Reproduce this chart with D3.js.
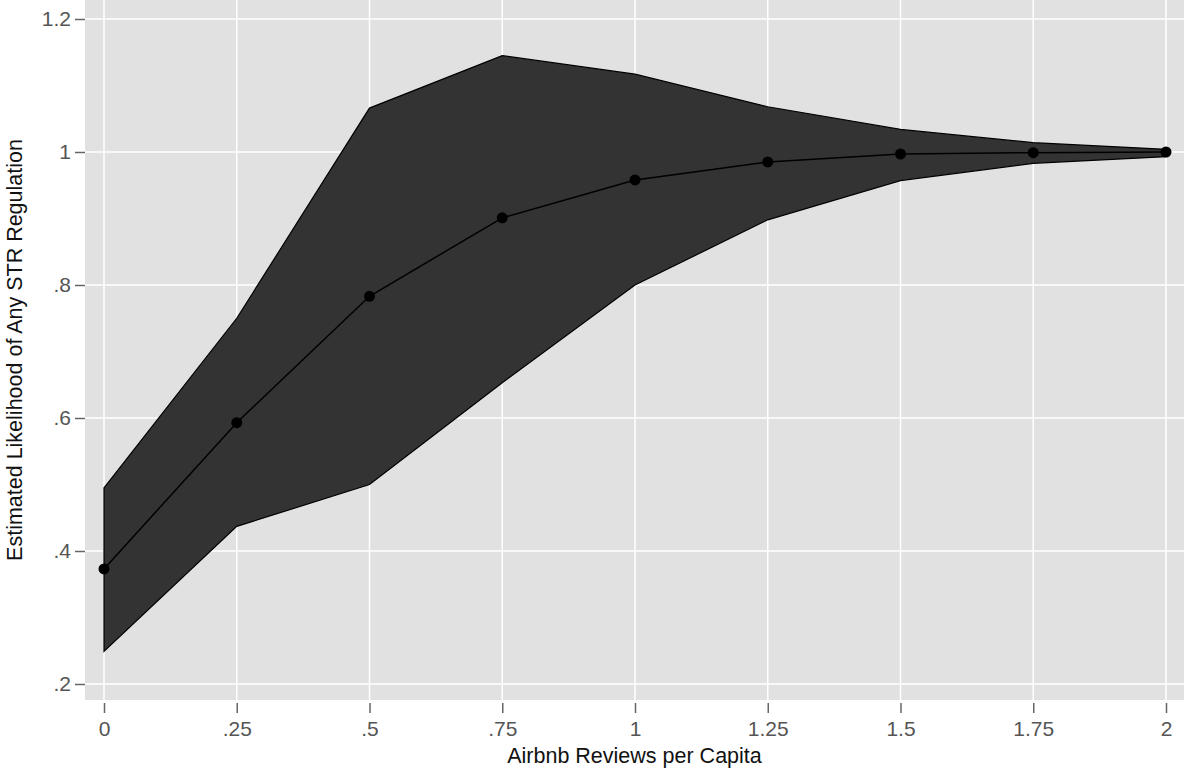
<!DOCTYPE html>
<html><head><meta charset="utf-8">
<script src="https://cdn.jsdelivr.net/npm/d3@7"></script>
<style>body{margin:0;background:#fff;}svg{display:block;font-family:"Liberation Sans",Arial,sans-serif;}</style>
</head><body>
<svg id="c" width="1184" height="772"></svg>
<script>
const xVals = [0, 0.25, 0.5, 0.75, 1, 1.25, 1.5, 1.75, 2];
const estimate = [0.373, 0.593, 0.783, 0.901, 0.958, 0.985, 0.997, 0.999, 1.0];
const upper = [0.495, 0.75, 1.066, 1.145, 1.117, 1.068, 1.034, 1.014, 1.004];
const lower = [0.249, 0.437, 0.5, 0.653, 0.8, 0.898, 0.957, 0.983, 0.993];
const xTicks = [0, 0.25, 0.5, 0.75, 1, 1.25, 1.5, 1.75, 2];
const xTickLabels = ["0", ".25", ".5", ".75", "1", "1.25", "1.5", "1.75", "2"];
const yTicks = [0.2, 0.4, 0.6, 0.8, 1, 1.2];
const yTickLabels = [".2", ".4", ".6", ".8", "1", "1.2"];

const svg = d3.select("#c");
const panel = {l: 85, r: 1184, t: 0, b: 700};
const x = d3.scaleLinear().domain([0, 2]).range([104, 1166]);
const y = d3.scaleLinear().domain([0.2, 1.2]).range([684, 19]);

svg.append("rect").attr("x", panel.l).attr("y", panel.t)
  .attr("width", panel.r - panel.l).attr("height", panel.b - panel.t).attr("fill", "#e1e1e1");

const g = svg.append("g");
g.selectAll(".hg").data(yTicks).join("line")
  .attr("x1", panel.l).attr("x2", panel.r).attr("y1", d => y(d)).attr("y2", d => y(d))
  .attr("stroke", "#fff").attr("stroke-width", 1.5);
g.selectAll(".vg").data(xTicks).join("line")
  .attr("y1", panel.t).attr("y2", panel.b).attr("x1", d => x(d)).attr("x2", d => x(d))
  .attr("stroke", "#fff").attr("stroke-width", 1.5);

const data = xVals.map((v, i) => ({x: v, e: estimate[i], u: upper[i], l: lower[i]}));
const area = d3.area().x(d => x(d.x)).y0(d => y(d.l)).y1(d => y(d.u));
svg.append("path").datum(data).attr("d", d => area(d) + "Z")
  .attr("fill", "#333333").attr("stroke", "#000").attr("stroke-width", 1.2);

const line = d3.line().x(d => x(d.x)).y(d => y(d.e));
svg.append("path").datum(data).attr("d", line).attr("fill", "none")
  .attr("stroke", "#000").attr("stroke-width", 1.5);
svg.selectAll(".pt").data(data).join("circle")
  .attr("cx", d => x(d.x)).attr("cy", d => y(d.e)).attr("r", 5.5).attr("fill", "#000");

// Axes
const yAxis = d3.axisLeft(y).tickValues(yTicks).tickFormat((d, i) => yTickLabels[i]).tickSize(10).tickPadding(4);
const ya = svg.append("g").attr("transform", `translate(${panel.l},0)`).call(yAxis);
ya.select(".domain").remove();
ya.selectAll("line").attr("stroke", "#666").attr("stroke-width", 1.5);
ya.selectAll("text").attr("font-size", 21).attr("fill", "#555").attr("font-family", "Liberation Sans, Arial, sans-serif");

const xAxis = d3.axisBottom(x).tickValues(xTicks).tickFormat((d, i) => xTickLabels[i]).tickSize(10).tickPadding(8);
const xa = svg.append("g").attr("transform", `translate(0,${panel.b + 3})`).call(xAxis);
xa.select(".domain").remove();
xa.selectAll("line").attr("stroke", "#666").attr("stroke-width", 1.5);
xa.selectAll("text").attr("font-size", 21).attr("fill", "#555").attr("font-family", "Liberation Sans, Arial, sans-serif");

svg.append("text").attr("x", (panel.l + panel.r) / 2).attr("y", 763)
  .attr("text-anchor", "middle").attr("font-size", 21.5).attr("fill", "#111")
  .text("Airbnb Reviews per Capita");
svg.append("text").attr("transform", `translate(22,${(panel.t + panel.b) / 2}) rotate(-90)`)
  .attr("text-anchor", "middle").attr("font-size", 21.5).attr("fill", "#111")
  .text("Estimated Likelihood of Any STR Regulation");
</script>
</body></html>
